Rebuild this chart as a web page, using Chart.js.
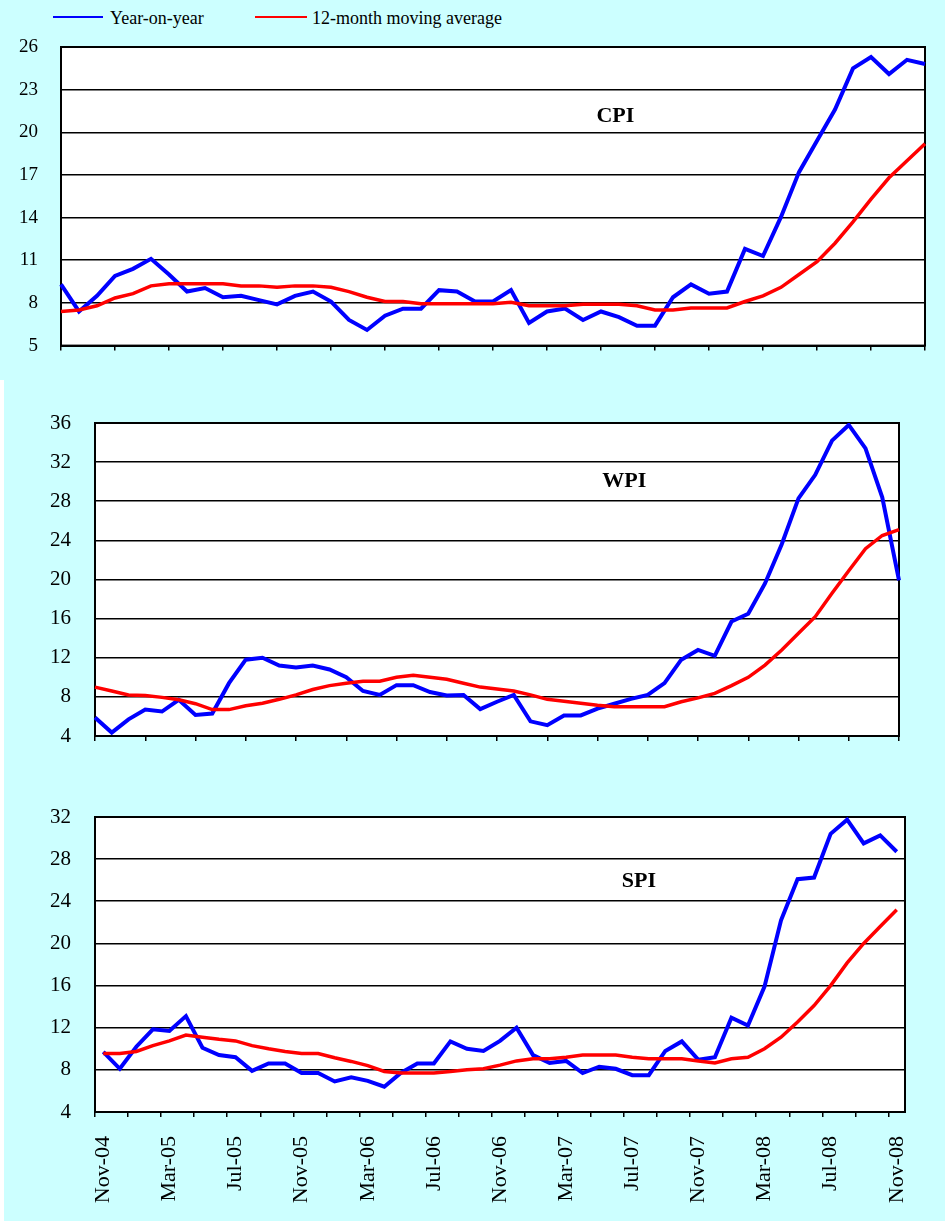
<!DOCTYPE html>
<html>
<head>
<meta charset="utf-8">
<script src="https://cdn.jsdelivr.net/npm/chart.js@4.4.1/dist/chart.umd.min.js"></script>
<style>
  html, body { margin: 0; padding: 0; background: #fff; }
  #page {
    position: relative; width: 945px; height: 1221px; overflow: hidden;
    background: #ccffff; font-family: "Liberation Serif", "Times New Roman", serif;
  }
  #page canvas { position: absolute; left: 0; }
  .edge { position: absolute; left: 0; top: 380px; width: 4px; height: 841px; background: #fff; }
  .key { position: absolute; top: 8px; font-size: 18px; line-height: 20px; color: #000; white-space: nowrap; }
  .swatch { position: absolute; top: 16px; height: 2px; }
</style>
</head>
<body>
<div id="page">
  <div class="edge"></div>
  <div class="swatch" style="left:53px;width:50px;background:#0000ff"></div>
  <div class="key" style="left:110px">Year-on-year</div>
  <div class="swatch" style="left:255px;width:52px;background:#ff0000"></div>
  <div class="key" style="left:312px">12-month moving average</div>
  <canvas id="cpi" width="945" height="380" style="top:0"></canvas>
  <canvas id="wpi" width="945" height="400" style="top:380px"></canvas>
  <canvas id="spi" width="945" height="441" style="top:780px"></canvas>
</div>
<script>
// monthly inflation, Nov-04 .. Nov-08 (percent)
const months = [
  "Nov-04", "Dec-04", "Jan-05", "Feb-05", "Mar-05", "Apr-05", "May-05", "Jun-05", "Jul-05", "Aug-05",
  "Sep-05", "Oct-05", "Nov-05", "Dec-05", "Jan-06", "Feb-06", "Mar-06", "Apr-06", "May-06", "Jun-06",
  "Jul-06", "Aug-06", "Sep-06", "Oct-06", "Nov-06", "Dec-06", "Jan-07", "Feb-07", "Mar-07", "Apr-07",
  "May-07", "Jun-07", "Jul-07", "Aug-07", "Sep-07", "Oct-07", "Nov-07", "Dec-07", "Jan-08", "Feb-08",
  "Mar-08", "Apr-08", "May-08", "Jun-08", "Jul-08", "Aug-08", "Sep-08", "Oct-08", "Nov-08",
];

const cpiYoY = [
  9.3, 7.4, 8.5, 9.9, 10.4, 11.1, 10.0, 8.8, 9.05, 8.4,
  8.5, 8.2, 7.9, 8.5, 8.8, 8.1, 6.8, 6.1, 7.1, 7.6,
  7.6, 8.9, 8.8, 8.1, 8.1, 8.9, 6.6, 7.4, 7.6, 6.8,
  7.4, 7.0, 6.4, 6.4, 8.4, 9.3, 8.65, 8.8, 11.8, 11.3,
  14.05, 17.2, 19.4, 21.6, 24.5, 25.3, 24.1, 25.1, 24.8,
];
const cpiAvg = [
  7.4, 7.5, 7.8, 8.35, 8.65, 9.2, 9.35, 9.35, 9.35, 9.35,
  9.2, 9.2, 9.1, 9.2, 9.2, 9.1, 8.8, 8.4, 8.1, 8.1,
  7.95, 7.95, 7.95, 7.95, 7.95, 8.05, 7.8, 7.8, 7.8, 7.9,
  7.9, 7.9, 7.8, 7.5, 7.5, 7.65, 7.65, 7.65, 8.1, 8.5,
  9.1, 10.0, 10.9, 12.2, 13.7, 15.3, 16.8, 18.0, 19.2,
];

const wpiYoY = [
  5.9, 4.35, 5.7, 6.7, 6.5, 7.7, 6.15, 6.3, 9.4, 11.8,
  12.0, 11.2, 11.0, 11.2, 10.8, 10.0, 8.6, 8.2, 9.2, 9.2,
  8.5, 8.15, 8.2, 6.75, 7.5, 8.2, 5.5, 5.1, 6.1, 6.1,
  6.8, 7.3, 7.8, 8.2, 9.4, 11.8, 12.8, 12.2, 15.7, 16.5,
  19.6, 23.6, 28.3, 30.7, 34.2, 35.8, 33.4, 28.4, 19.9,
];
const wpiAvg = [
  9.0, 8.6, 8.2, 8.15, 7.95, 7.7, 7.3, 6.7, 6.7, 7.1,
  7.35, 7.75, 8.2, 8.75, 9.15, 9.4, 9.6, 9.6, 10.0, 10.2,
  10.0, 9.8, 9.4, 9.0, 8.8, 8.6, 8.2, 7.75, 7.55, 7.35,
  7.15, 7.0, 7.0, 7.0, 7.0, 7.5, 7.9, 8.35, 9.15, 10.0,
  11.25, 12.8, 14.5, 16.2, 18.6, 20.9, 23.15, 24.5, 25.1,
];

const spiYoY = [
  9.7, 8.1, 10.2, 11.85, 11.7, 13.1, 10.1, 9.4, 9.2, 7.9,
  8.6, 8.6, 7.7, 7.7, 6.9, 7.3, 6.95, 6.4, 7.7, 8.6,
  8.6, 10.7, 10.0, 9.8, 10.75, 12.0, 9.4, 8.65, 8.85, 7.7,
  8.3, 8.1, 7.5, 7.5, 9.8, 10.7, 8.95, 9.2, 12.95, 12.2,
  15.9, 22.2, 26.1, 26.25, 30.4, 31.75, 29.5, 30.25, 28.7,
];
const spiAvg = [
  9.55, 9.55, 9.75, 10.3, 10.75, 11.3, 11.1, 10.9, 10.75, 10.3,
  10.0, 9.75, 9.55, 9.55, 9.15, 8.8, 8.4, 7.85, 7.7, 7.7,
  7.7, 7.85, 8.0, 8.1, 8.45, 8.85, 9.05, 9.05, 9.2, 9.4,
  9.4, 9.4, 9.2, 9.05, 9.05, 9.05, 8.85, 8.65, 9.05, 9.2,
  10.0, 11.1, 12.55, 14.1, 16.0, 18.15, 20.0, 21.6, 23.2,
];

const cpiTicks = [5, 8, 11, 14, 17, 20, 23, 26];
const wpiTicks = [4, 8, 12, 16, 20, 24, 28, 32, 36];
const spiTicks = [4, 8, 12, 16, 20, 24, 28, 32];

const SERIF = '"Liberation Serif", "Times New Roman", serif';
Chart.defaults.font.family = SERIF;
Chart.defaults.color = "#000";

// white plot box with black frame, plus the index name inside it
const plotBox = {
  id: "plotBox",
  beforeDraw(chart) {
    const { ctx, chartArea: a } = chart;
    ctx.save();
    ctx.fillStyle = "#fff";
    ctx.fillRect(a.left, a.top, a.right - a.left, a.bottom - a.top);
    ctx.restore();
  },
  beforeDatasetsDraw(chart, args, opts) {
    const { ctx, chartArea: a, scales } = chart;
    ctx.save();
    ctx.strokeStyle = "#000";
    ctx.lineWidth = 2;
    ctx.strokeRect(a.left, a.top, a.right - a.left, a.bottom - a.top);
    ctx.fillStyle = "#000";
    ctx.font = "bold 22px " + SERIF;
    ctx.textAlign = "center";
    ctx.textBaseline = "middle";
    ctx.fillText(opts.tag, scales.x.getPixelForValue(opts.at[0]), scales.y.getPixelForValue(opts.at[1]));
    ctx.restore();
  },
};

function panel(id, o) {
  return new Chart(document.getElementById(id), {
    type: "line",
    data: {
      labels: months,
      datasets: [
        { label: "Year-on-year", data: o.yoy, borderColor: "#0000ff", borderWidth: 4, order: 1 },
        { label: "12-month moving average", data: o.avg, borderColor: "#ff0000", borderWidth: 3.5, order: 0 },
      ],
    },
    options: {
      responsive: false,
      devicePixelRatio: 1,
      animation: false,
      events: [],
      elements: { point: { radius: 0 }, line: { tension: 0, fill: false } },
      layout: { padding: { top: o.top, right: o.right, left: 0, bottom: 0 } },
      plugins: {
        legend: { display: false },
        tooltip: { enabled: false },
        plotBox: { tag: o.tag, at: o.tagAt },
      },
      scales: {
        x: {
          type: "category",
          offset: o.offset,
          afterFit: (s) => { s.height = o.xHeight; },
          border: { color: "#000", width: 2 },
          grid: {
            offset: o.offset,
            drawOnChartArea: false,
            tickLength: 5,
            lineWidth: 1.5,
            tickWidth: 1.5,
            tickColor: (c) => (c.index !== undefined && c.index % o.every === 0 ? "#000" : "rgba(0,0,0,0)"),
          },
          ticks: {
            display: o.showMonths,
            autoSkip: false,
            minRotation: 90,
            maxRotation: 90,
            padding: 19,
            font: { size: 22 },
            callback: (v, i) => (i % 4 === 0 ? months[i] : ""),
          },
        },
        y: {
          min: o.yTicks[0],
          max: o.yTicks[o.yTicks.length - 1],
          afterBuildTicks: (s) => { s.ticks = o.yTicks.map((v) => ({ value: v })); },
          afterFit: (s) => { s.width = o.yWidth; },
          border: { color: "#000", width: 2 },
          grid: { color: "#000", lineWidth: 1.6, drawTicks: false },
          ticks: { padding: o.labelPad, font: { size: o.fontSize } },
        },
      },
    },
    plugins: [plotBox],
  });
}

panel("cpi", {
  yoy: cpiYoY, avg: cpiAvg, yTicks: cpiTicks, tag: "CPI", tagAt: [30.8, 21.1],
  top: 47, right: 20, yWidth: 61, xHeight: 29, labelPad: 23, fontSize: 19,
  offset: false, every: 3, showMonths: false,
});

panel("wpi", {
  yoy: wpiYoY, avg: wpiAvg, yTicks: wpiTicks, tag: "WPI", tagAt: [31.6, 30.0],
  top: 43, right: 46, yWidth: 95, xHeight: 44, labelPad: 24, fontSize: 21,
  offset: false, every: 3, showMonths: false,
});

panel("spi", {
  yoy: spiYoY, avg: spiAvg, yTicks: spiTicks, tag: "SPI", tagAt: [32.4, 25.9],
  top: 37, right: 40, yWidth: 95, xHeight: 109, labelPad: 24, fontSize: 21,
  offset: true, every: 2, showMonths: true,
});
</script>
</body>
</html>
